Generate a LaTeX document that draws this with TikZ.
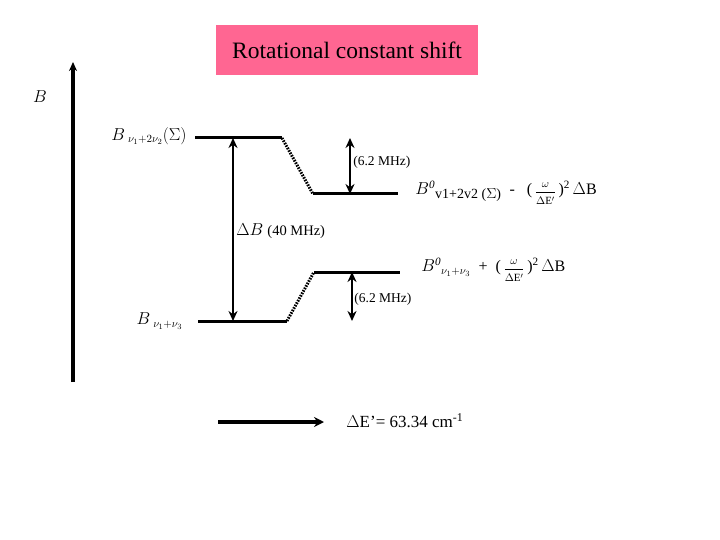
\documentclass[tikz,border=0pt]{standalone}
\usepackage{amsmath}
\usepackage{fontspec}
\setmainfont{Liberation Serif}
\usetikzlibrary{arrows.meta}
\definecolor{rcpink}{RGB}{255,102,146}
\tikzset{every picture/.style={line width=0.75pt}}
\tikzset{
  rclevel/.style ={line width=3pt},
  rcshift/.style ={line width=3pt, dash pattern=on 1.6pt off 1.2pt},
  rcgap/.style   ={{Stealth[length=10pt,width=9pt]}-{Stealth[length=10pt,width=9pt]}, line width=2.6pt},
  rcaxis/.style  ={-{Stealth[length=9pt,width=8pt]}, line width=4pt},
  rclab/.style   ={inner sep=1pt, font=\fontsize{16}{18}\selectfont},
  rcsmall/.style ={inner sep=1pt, font=\fontsize{13.5}{15}\selectfont},
}
\newcommand{\rcfrac}{(\,{\fontsize{11}{12}\selectfont$\genfrac{}{}{1.4pt}{0}{\omega}{\Delta\mathrm{E'}}$}\,)\textsuperscript{2}\,$\Delta$B}

\begin{document}
\begin{tikzpicture}[x=1pt, y=-1pt]
    \useasboundingbox (0,0) rectangle (720,540);
    % title
    \node[fill=rcpink, minimum width=262pt, minimum height=50pt, inner sep=0pt,
          font=\fontsize{23.5}{26}\selectfont] (title) at (347,50) {Rotational constant shift};
    % axis
    \coordinate (ax0) at (73,382);
    \coordinate (ax1) at (73,62);
    \draw[rcaxis] (ax0) -- (ax1);
    \node[rclab, anchor=center] (axlab) at (40,97) {$B$};
    % upper state
    \coordinate (ua) at (195,138);
    \coordinate (ub) at (282,138);
    \coordinate (uc) at (313,194);
    \coordinate (ud) at (398,194);
    \draw[rclevel] (ua) -- (ub);
    \draw[rcshift] (ub) -- (uc);
    \draw[rclevel] (uc) -- (ud);
    \node[rclab, anchor=east] (ulab) at (188,136)
        {$B\,{}_{\nu_1+2\nu_2}(\Sigma)$};
    \coordinate (ug0) at (350,138);
    \coordinate (ug1) at (350,194);
    \draw[rcgap] (ug0) -- (ug1);
    \node[rcsmall, anchor=west] (ugap) at (352,162) {(6.2 MHz)};
    \node[rclab, anchor=west] (ures) at (414,193)
        {$B^{\mathit{0}}{}_{\textrm{\fontsize{14}{15}\selectfont v1+2v2 ($\Sigma$)}}$\ \ -\ \ \ \rcfrac};
    % lower state
    \coordinate (la) at (198,321);
    \coordinate (lb) at (287,321);
    \coordinate (lc) at (314,272);
    \coordinate (ld) at (400,272);
    \draw[rclevel] (la) -- (lb);
    \draw[rcshift] (lb) -- (lc);
    \draw[rclevel] (lc) -- (ld);
    \node[rclab, anchor=east] (llab) at (184,321) {$B\,{}_{\nu_1+\nu_3}$};
    \coordinate (lg0) at (352,272);
    \coordinate (lg1) at (352,321);
    \draw[rcgap] (lg0) -- (lg1);
    \node[rcsmall, anchor=west] (lgap) at (353,299) {(6.2 MHz)};
    \node[rclab, anchor=west] (lres) at (420,270)
        {$B^{\mathit{0}}{}_{\nu_1+\nu_3}$\ \ +\ \ \rcfrac};
    % splitting between the two states
    \coordinate (db0) at (233,138);
    \coordinate (db1) at (233,321);
    \draw[rcgap] (db0) -- (db1);
    \node[rclab, anchor=west] (dblab) at (235,231)
        {$\Delta B$ {\fontsize{14.5}{16}\selectfont(40 MHz)}};
    % energy gap
    \coordinate (e0) at (218,422);
    \coordinate (e1) at (324,422);
    \draw[rcaxis, line width=4pt, -{Stealth[length=10pt,width=10pt]}] (e0) -- (e1);
    \node[rclab, anchor=west, font=\fontsize{17}{19}\selectfont] (elab) at (345,421)
        {$\Delta$E’= 63.34 cm\textsuperscript{-1}};
\end{tikzpicture}
\end{document}
